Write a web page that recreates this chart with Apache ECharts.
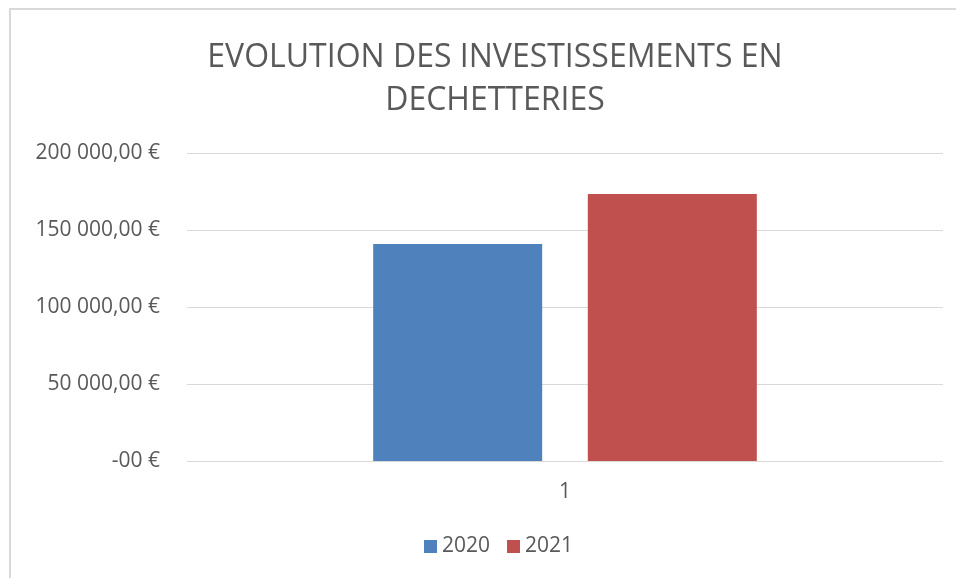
<!DOCTYPE html>
<html>
<head>
<meta charset="utf-8">
<script src="https://cdn.jsdelivr.net/npm/echarts@6/dist/echarts.min.js"></script>
<style>
  html, body { margin: 0; padding: 0; background: #fff; }
  #chart { width: 956px; height: 578px; }
</style>
</head>
<body>
<div id="chart"></div>
<script>
// données
const categories = ['1'];
const years = ['2020', '2021'];
const invest2020 = [140900];
const invest2021 = [173400];
const colors = ['#4f81bd', '#c0504d'];

const fontFamily = '"Open Sans", "Liberation Sans", sans-serif';

// format "150 000,00 €", zéro affiché "-00 €" comme dans Excel
function euro(v) {
  if (v === 0) return '-00 €';
  const s = Math.round(v).toString().replace(/\B(?=(\d{3})+(?!\d))/g, ' ');
  return s + ',00 €';
}

const chart = echarts.init(document.getElementById('chart'));

const option = {
  animation: false,
  textStyle: { fontFamily: fontFamily },
  title: {
    text: 'EVOLUTION DES INVESTISSEMENTS EN\nDECHETTERIES',
    left: 490,
    textAlign: 'center',
    top: 31,
    textStyle: {
      fontFamily: fontFamily,
      fontWeight: 'normal',
      fontSize: 32,
      lineHeight: 43,
      color: '#595959'
    }
  },
  graphic: [{
    type: 'rect',
    shape: { x: 10, y: 9, width: 1000, height: 600 },
    style: { fill: 'none', stroke: '#d9d9d9', lineWidth: 2 },
    silent: true
  }],
  legend: {
    data: years,
    bottom: 16,
    left: 419,
    itemWidth: 13,
    itemHeight: 13,
    itemGap: 17,
    icon: 'rect',
    textStyle: { fontSize: 21, color: '#595959', fontFamily: fontFamily }
  },
  grid: { left: 187, right: 13, top: 153, bottom: 117, containLabel: false },
  xAxis: {
    type: 'category',
    data: categories,
    axisLine: { show: false },
    axisTick: { show: false },
    axisLabel: { fontSize: 21, color: '#595959', margin: 21 }
  },
  yAxis: {
    type: 'value',
    min: 0,
    max: 200000,
    interval: 50000,
    axisLine: { show: false },
    axisTick: { show: false },
    splitLine: { lineStyle: { color: '#d9d9d9', width: 1 } },
    axisLabel: {
      formatter: euro,
      fontSize: 21,
      color: '#595959',
      margin: 27
    }
  },
  series: [
    {
      name: years[0],
      type: 'bar',
      data: invest2020,
      barWidth: 169,
      barGap: '27%',
      itemStyle: { color: colors[0] }
    },
    {
      name: years[1],
      type: 'bar',
      data: invest2021,
      barWidth: 169,
      barGap: '27%',
      itemStyle: { color: colors[1] }
    }
  ]
};

chart.setOption(option);
</script>
</body>
</html>
